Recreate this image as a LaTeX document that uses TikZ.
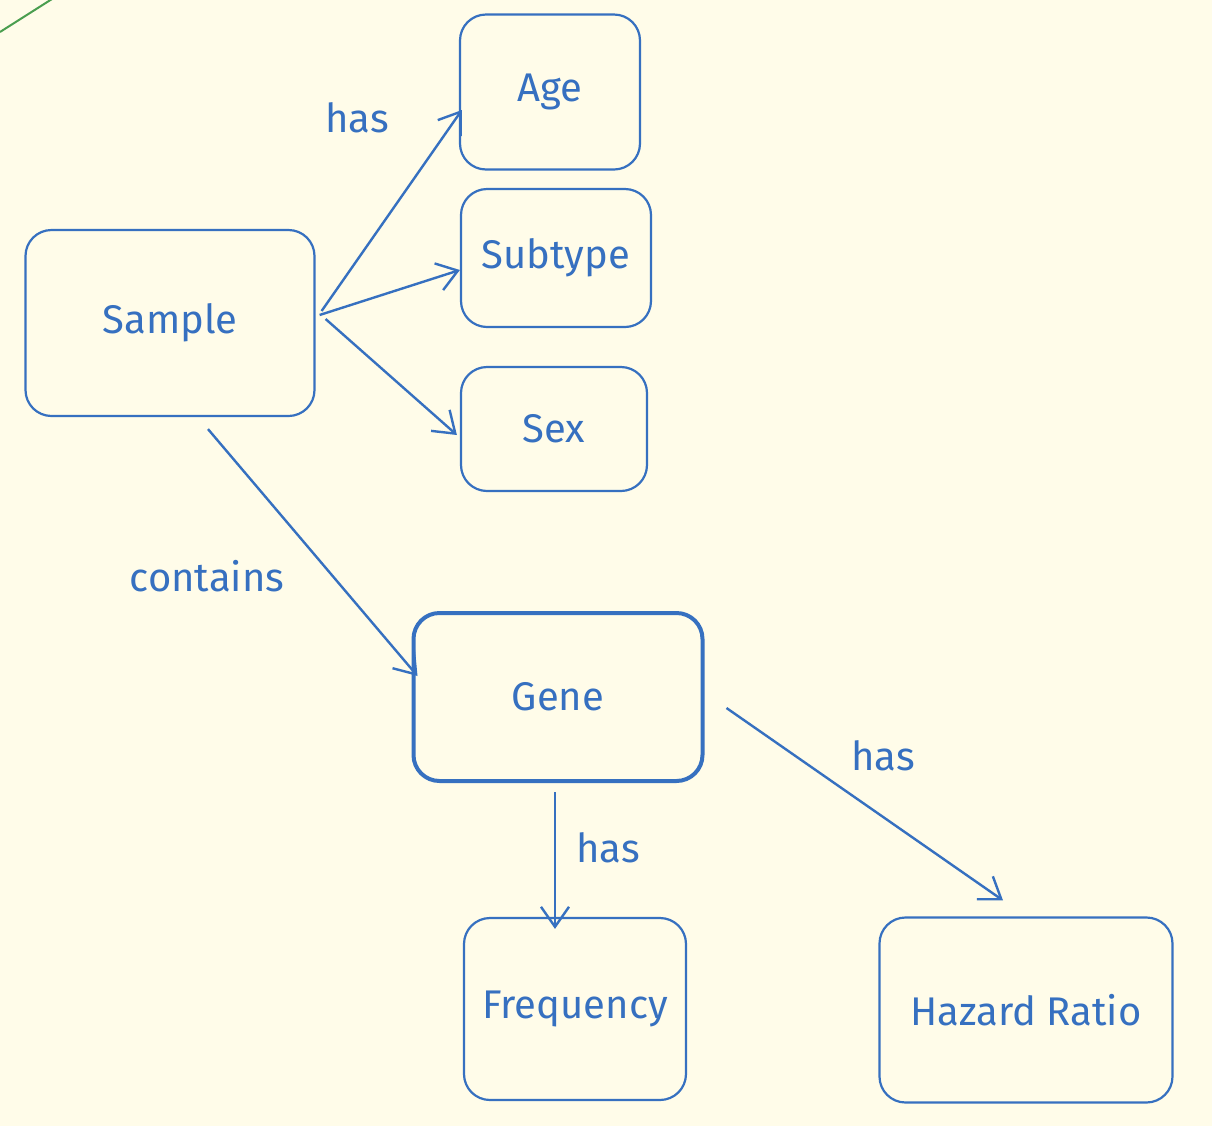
\documentclass[tikz,border=0pt]{standalone}
\usepackage{fontspec}
\setmainfont{Fira Sans}
\usetikzlibrary{arrows.meta}

\definecolor{paper}{RGB}{255,252,233}
\definecolor{ink}{RGB}{54,112,192}
\definecolor{leaf}{RGB}{74,158,79}

\tikzset{
	entity/.style={draw=ink,text=ink,rounded corners=13pt,line width=1.1pt,inner sep=0pt,font=\fontsize{20}{24}\selectfont},
	relation/.style={text=ink,inner sep=0pt,font=\fontsize{20}{24}\selectfont},
	link/.style={draw=ink,line width=1.2pt,->}
}

\begin{document}
\begin{tikzpicture}
		[x=0.5pt, y=-0.5pt, >={Straight Barb[length=10pt,width=14pt]}]
		\useasboundingbox[fill=paper] (0,0) rectangle (1212,1126);
		\draw[leaf,line width=1pt] (0,32) -- (52,-1);
		% attribute boxes
		\node (age) [entity,minimum width=90pt,minimum height=77.5pt] at (550,92) {Age};
		\node (subtype) [entity,minimum width=95pt,minimum height=69pt] at (556,258) {Subtype};
		\node (sex) [entity,minimum width=93pt,minimum height=62pt] at (554,429) {Sex};
		\node (sample) [entity,minimum width=144.5pt,minimum height=93pt] at (170,323) {Sample};
		\node (gene) [entity,line width=2pt,minimum width=144.5pt,minimum height=84pt] at (558,697) {Gene};
		\node (freq) [entity,minimum width=111pt,minimum height=91pt] at (575,1009) {Frequency};
		\node (hazard) [entity,minimum width=146.5pt,minimum height=92.5pt] at (1026,1010) {Hazard Ratio};
		% labels
		\node (has1) [relation] at (357,118) {has};
		\node (contains) [relation] at (207,576) {contains};
		\node (has2) [relation] at (608,848) {has};
		\node (has3) [relation] at (883,756) {has};
		% arrows
		\draw [link] ([xshift=3pt,yshift=6pt]sample.east) -- ([xshift=1.5pt,yshift=-9pt]age.west);
		\draw [link] ([xshift=2pt,yshift=4pt]sample.east) -- ([yshift=-6pt]subtype.west);
		\draw [link] ([xshift=5pt,yshift=2pt]sample.east) -- ([xshift=-1.5pt,yshift=-3pt]sex.west);
		\draw [link] ([xshift=19pt,yshift=-6pt]sample.south) -- ([xshift=3pt,yshift=10.5pt]gene.west);
		\draw [link] ([xshift=-1.5pt,yshift=-4.5pt]gene.south) -- ([xshift=-1.5pt,yshift=-6pt]gene.south |- freq.north);
		\draw [link] ([xshift=11pt,yshift=-5.5pt]gene.east) -- ([xshift=-11.5pt,yshift=8pt]hazard.north);
	\end{tikzpicture}
\end{document}
